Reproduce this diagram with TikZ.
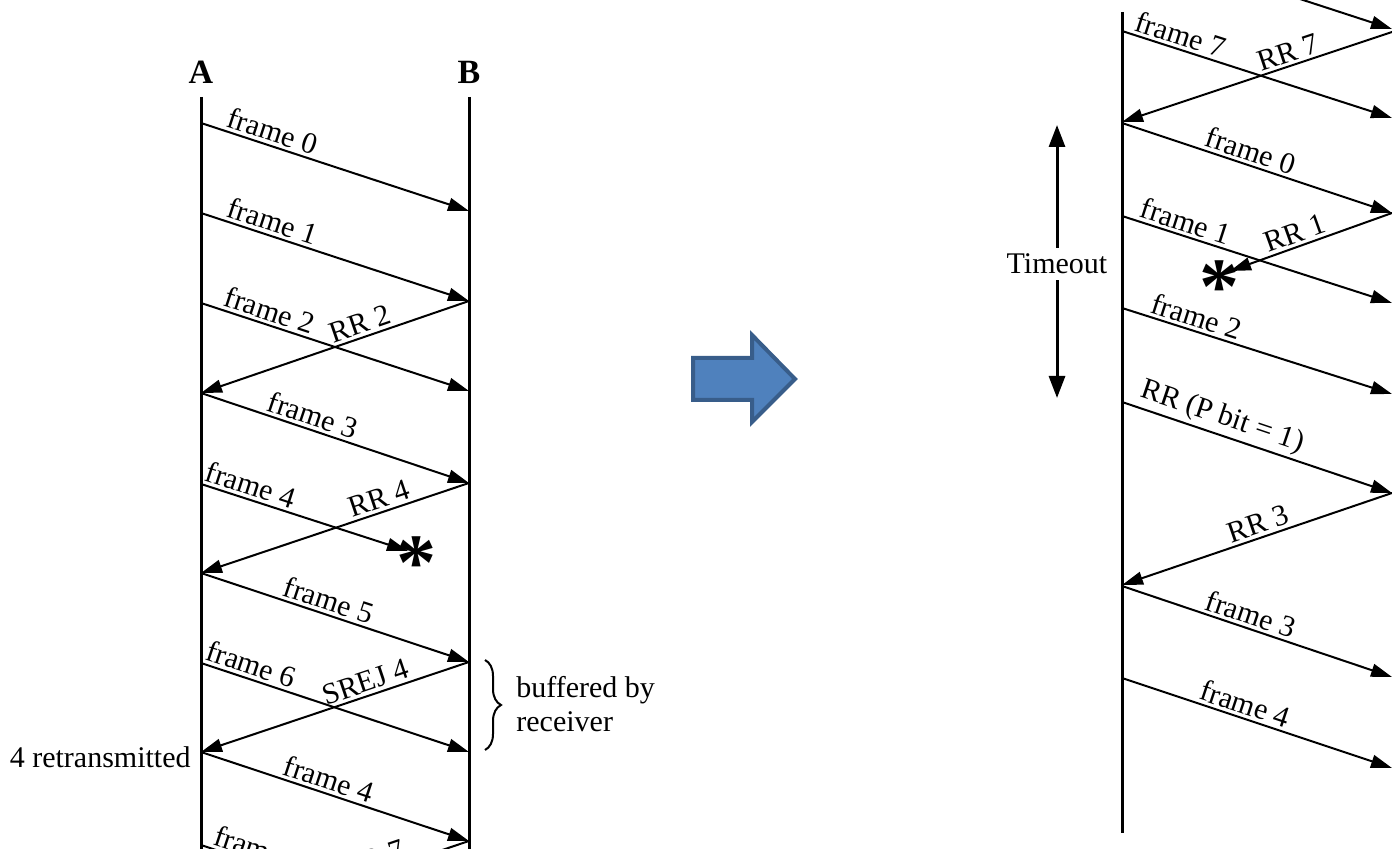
\documentclass[tikz,border=0pt]{standalone}
\usepackage{fontspec}
\setmainfont{Liberation Serif}
\usetikzlibrary{arrows.meta,decorations.pathreplacing}
\definecolor{arrowfill}{HTML}{4F81BD}
\definecolor{arrowedge}{HTML}{385D8A}
\begin{document}
\begin{tikzpicture}[x=0.5pt,y=-0.5pt,
  lifeline/.style={line width=1.5pt},
  msg/.style={line width=1pt,-{Triangle[length=10.5pt,width=6.5pt]}},
  lbl/.style={sloped,above,inner sep=1.5pt,font=\fontsize{15}{17}\selectfont},
  txt/.style={inner sep=1pt,font=\fontsize{15}{17}\selectfont},
  hdr/.style={inner sep=0pt,font=\fontsize{17}{20}\selectfont\bfseries},
  lost/.style={inner sep=0pt,anchor=north,font=\fontsize{40}{40}\selectfont\bfseries},
  tarrow/.style={line width=1.5pt,-{Triangle[length=11pt,width=8pt]}}]
\useasboundingbox (0,0) rectangle (1392,849);
\clip (0,0) rectangle (1392,849);

% ---------------- left diagram ----------------
\node[hdr] (A) at (201,72) {A};
\node[hdr] (B) at (469,72) {B};
\coordinate (At) at (201,97);  \coordinate (Ab) at (201,870);
\coordinate (Bt) at (469,97);  \coordinate (Bb) at (469,870);
\draw[lifeline] (At) -- (Ab);
\draw[lifeline] (Bt) -- (Bb);

\coordinate (a0) at (201,123); \coordinate (b0) at (469,211);
\coordinate (a1) at (201,213); \coordinate (b1) at (469,301);
\coordinate (a2) at (201,303); \coordinate (b2) at (469,391);
\coordinate (ar2) at (201,393);
\coordinate (a3) at (201,393); \coordinate (b3) at (469,483);
\coordinate (a4) at (201,484); \coordinate (x4) at (408,551);
\coordinate (ar4) at (201,573);
\coordinate (a5) at (201,573); \coordinate (b5) at (469,662);
\coordinate (a6) at (201,663); \coordinate (b6) at (469,752);
\coordinate (as4) at (201,752);
\coordinate (a4b) at (201,752); \coordinate (b4b) at (469,841);
\coordinate (a7) at (201,845); \coordinate (b7) at (469,934);
\coordinate (ar7) at (201,931);

\draw[msg] (a0) -- node[lbl,pos=.25] {frame 0} (b0);
\draw[msg] (a1) -- node[lbl,pos=.25] {frame 1} (b1);
\draw[msg] (a2) -- node[lbl,pos=.24] {frame 2} (b2);
\draw[msg] (b1) -- node[lbl,pos=.39] {RR 2} (ar2);
\draw[msg] (a3) -- node[lbl,pos=.40] {frame 3} (b3);
\draw[msg] (a4) -- node[lbl,pos=.22] {frame 4} (x4);
\node[lost] (star1) at (416,536) {*};
\draw[msg] (b3) -- node[lbl,pos=.32] {RR 4} (ar4);
\draw[msg] (a5) -- node[lbl,pos=.46] {frame 5} (b5);
\draw[msg] (a6) -- node[lbl,pos=.17] {frame 6} (b6);
\draw[msg] (b5) -- node[lbl,pos=.37] {SREJ 4} (as4);
\draw[msg] (a4b) -- node[lbl,pos=.46] {frame 4} (b4b);
\draw[msg] (a7) -- node[lbl,pos=.2] {frame 7} (b7);
\draw[msg] (b4b) -- node[lbl,pos=.34] {RR 7} (ar7);

\node[txt,anchor=east] (retx) at (193,757) {4 retransmitted};
\coordinate (brt) at (485,660); \coordinate (brb) at (485,750);
\draw[line width=1pt,decorate,decoration={brace,amplitude=8pt}] (brt) -- (brb);
\node[txt,anchor=west,align=left] (buf) at (514,704) {buffered by\\receiver};

% ---------------- block arrow ----------------
\draw[fill=arrowfill,draw=arrowedge,line width=2pt,line join=miter]
  (693,358) -- (752,358) -- (752,335) -- (795,379) -- (752,422) -- (752,400) -- (693,400) -- cycle;

% ---------------- right diagram ----------------
\coordinate (Ct) at (1122,12); \coordinate (Cb) at (1122,833);
\draw[lifeline] (Ct) -- (Cb);

\coordinate (c6) at (1122,-59); \coordinate (d6) at (1392,29);
\coordinate (c7) at (1122,31);  \coordinate (d7) at (1392,118);
\coordinate (dr7) at (1392,32); \coordinate (cr7) at (1122,122);
\coordinate (c0) at (1122,123); \coordinate (d0) at (1392,213);
\coordinate (c1) at (1122,216); \coordinate (d1) at (1392,303);
\coordinate (x1) at (1230,271);
\coordinate (c2) at (1122,308); \coordinate (d2) at (1392,394);
\coordinate (cp) at (1122,402); \coordinate (dp) at (1392,493);
\coordinate (cr3) at (1122,585);
\coordinate (c3) at (1122,586); \coordinate (d3) at (1392,677);
\coordinate (c4) at (1122,678); \coordinate (d4) at (1392,768);

\draw[msg] (c6) -- (d6);
\draw[msg] (c7) -- node[lbl,pos=.2] {frame 7} (d7);
\draw[msg] (dr7) -- node[lbl,pos=.37] {RR 7} (cr7);
\draw[msg] (c0) -- node[lbl,pos=.46] {frame 0} (d0);
\draw[msg] (c1) -- node[lbl,pos=.22] {frame 1} (d1);
\draw[msg] (d0) -- node[lbl,pos=.57] {RR 1} (x1);
\node[lost] (star2) at (1219,260) {*};
\draw[msg] (c2) -- node[lbl,pos=.26] {frame 2} (d2);
\draw[msg] (cp) -- node[lbl,pos=.35] {RR (P bit = 1)} (dp);
\draw[msg] (dp) -- node[lbl,pos=.48] {RR 3} (cr3);
\draw[msg] (c3) -- node[lbl,pos=.46] {frame 3} (d3);
\draw[msg] (c4) -- node[lbl,pos=.44] {frame 4} (d4);

\node[txt,inner sep=3pt] (tmo) at (1057,264) {Timeout};
\coordinate (tt) at (1057,125); \coordinate (tb) at (1057,398);
\draw[tarrow] (tmo.north) -- (tt);
\draw[tarrow] (tmo.south) -- (tb);
\end{tikzpicture}
\end{document}
